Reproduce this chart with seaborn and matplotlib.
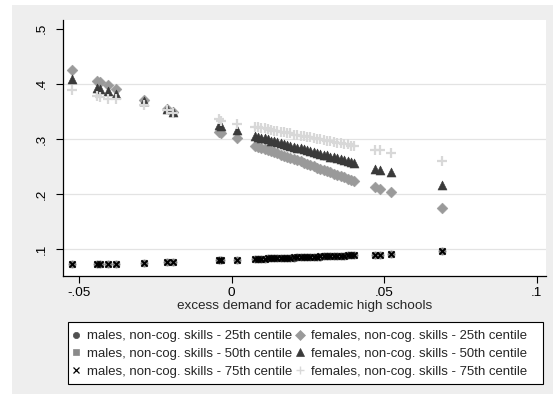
import matplotlib
matplotlib.use("Agg")
import matplotlib.pyplot as plt
import seaborn as sns
from matplotlib.patches import Rectangle
from matplotlib.lines import Line2D

# Excess demand for academic high schools (x) for each municipality group
excess_demand = [
    -0.0523, -0.0440, -0.0430, -0.0405, -0.0377, -0.0288, -0.0212, -0.0193,
    -0.0042, -0.0035, 0.0017,
    0.0078, 0.0088, 0.0098, 0.0108, 0.0119, 0.0130, 0.0140, 0.0150, 0.0161,
    0.0172, 0.0183, 0.0193, 0.0204, 0.0215, 0.0226, 0.0237, 0.0248, 0.0258,
    0.0269, 0.0280, 0.0291, 0.0302, 0.0313, 0.0324, 0.0335, 0.0346, 0.0357,
    0.0368, 0.0380, 0.0391, 0.0402,
    0.0470, 0.0487, 0.0521, 0.0688,
]

males_p25 = [
    0.0720, 0.0726, 0.0727, 0.0729, 0.0731, 0.0744, 0.0761, 0.0764,
    0.0799, 0.0800, 0.0805,
    0.0819, 0.0821, 0.0823, 0.0825, 0.0828, 0.0830, 0.0832, 0.0834, 0.0837,
    0.0839, 0.0841, 0.0844, 0.0846, 0.0848, 0.0851, 0.0853, 0.0855, 0.0857,
    0.0860, 0.0862, 0.0864, 0.0867, 0.0869, 0.0871, 0.0874, 0.0876, 0.0878,
    0.0880, 0.0883, 0.0885, 0.0889,
    0.0892, 0.0894, 0.0909, 0.0958,
]
males_p50 = [
    0.0721, 0.0727, 0.0728, 0.0730, 0.0732, 0.0745, 0.0762, 0.0765,
    0.0800, 0.0801, 0.0806,
    0.0820, 0.0822, 0.0824, 0.0826, 0.0829, 0.0831, 0.0833, 0.0835, 0.0838,
    0.0840, 0.0842, 0.0845, 0.0847, 0.0849, 0.0852, 0.0854, 0.0856, 0.0858,
    0.0861, 0.0863, 0.0865, 0.0868, 0.0870, 0.0872, 0.0875, 0.0877, 0.0879,
    0.0881, 0.0884, 0.0886, 0.0890,
    0.0893, 0.0895, 0.0910, 0.0960,
]
males_p75 = [
    0.0722, 0.0728, 0.0729, 0.0731, 0.0733, 0.0746, 0.0763, 0.0766,
    0.0801, 0.0802, 0.0807,
    0.0821, 0.0823, 0.0825, 0.0827, 0.0830, 0.0832, 0.0834, 0.0836, 0.0839,
    0.0841, 0.0843, 0.0846, 0.0848, 0.0850, 0.0853, 0.0855, 0.0857, 0.0859,
    0.0862, 0.0864, 0.0866, 0.0869, 0.0871, 0.0873, 0.0876, 0.0878, 0.0880,
    0.0882, 0.0885, 0.0887, 0.0891,
    0.0894, 0.0896, 0.0911, 0.0962,
]

females_p25 = [
    0.425, 0.406, 0.404, 0.398, 0.391, 0.371, 0.354, 0.348,
    0.312, 0.310, 0.301,
    0.288, 0.286, 0.284, 0.282, 0.280, 0.278, 0.276, 0.274, 0.271,
    0.269, 0.267, 0.265, 0.263, 0.261, 0.259, 0.256, 0.254, 0.252,
    0.250, 0.248, 0.246, 0.243, 0.241, 0.239, 0.237, 0.235, 0.232,
    0.230, 0.228, 0.226, 0.224,
    0.212, 0.209, 0.204, 0.175,
]
females_p50 = [
    0.409, 0.393, 0.391, 0.387, 0.382, 0.369, 0.354, 0.349,
    0.325, 0.323, 0.316,
    0.305, 0.304, 0.302, 0.301, 0.299, 0.297, 0.296, 0.294, 0.293,
    0.291, 0.289, 0.288, 0.286, 0.284, 0.283, 0.281, 0.280, 0.278,
    0.276, 0.275, 0.273, 0.271, 0.270, 0.268, 0.267, 0.265, 0.263,
    0.262, 0.260, 0.258, 0.256,
    0.246, 0.244, 0.239, 0.217,
]
females_p75 = [
    0.389, 0.378, 0.377, 0.373, 0.372, 0.361, 0.352, 0.347,
    0.336, 0.333, 0.328,
    0.322, 0.321, 0.320, 0.319, 0.318, 0.316, 0.315, 0.314, 0.313,
    0.312, 0.311, 0.310, 0.308, 0.307, 0.306, 0.305, 0.304, 0.303,
    0.301, 0.300, 0.299, 0.298, 0.297, 0.296, 0.294, 0.293, 0.292,
    0.291, 0.290, 0.288, 0.287,
    0.280, 0.280, 0.275, 0.259,
]

series_labels = [
    "males, non-cog. skills - 25th centile",
    "females, non-cog. skills - 25th centile",
    "males, non-cog. skills - 50th centile",
    "females, non-cog. skills - 50th centile",
    "males, non-cog. skills - 75th centile",
    "females, non-cog. skills - 75th centile",
]
x_ticks = [-0.05, 0, 0.05, 0.1]
x_tick_labels = ["-.05", "0", ".05", ".1"]
y_ticks = [0.1, 0.2, 0.3, 0.4, 0.5]
y_tick_labels = [".1", ".2", ".3", ".4", ".5"]
x_title = "excess demand for academic high schools"

sns.set_style("ticks")
plt.rcParams["font.family"] = ["Liberation Sans", "DejaVu Sans"]

FS = 9.7
LEG_FS = 9.45
W, H = 554, 401
fig = plt.figure(figsize=(W / 100, H / 100), dpi=100)
fig.patch.set_facecolor("white")

# light grey graph region
fig.patches.append(Rectangle((12 / W, 1 - 394 / H), (553 - 12) / W, (394 - 5) / H,
                             transform=fig.transFigure, facecolor="#eeeeee",
                             edgecolor="none", zorder=-5))

ax = fig.add_axes([63 / W, 1 - 276 / H, (546 - 63) / W, (276 - 20) / H])
ax.set_zorder(1)
ax.set_facecolor("white")

# marker, colour, size, line width for each series (in drawing order)
styles = [
    (males_p25, "o", "#505050", 26, 0.4),
    (females_p25, "D", "#9a9a9a", 30, 0.4),
    (males_p50, "s", "#8a8a8a", 24, 0.4),
    (females_p50, "^", "#3a3a3a", 42, 0.4),
    (males_p75, "x", "#000000", 20, 1.4),
    (females_p75, "+", "#d8d8d8", 48, 1.6),
]

for i, (vals, mk, col, size, lw) in enumerate(styles):
    kws = dict(x=excess_demand, y=vals, marker=mk, color=col, s=size,
               linewidth=lw, ax=ax, zorder=3 + i, legend=False)
    if mk in ("o", "D", "s", "^"):
        kws["edgecolor"] = col
    sns.scatterplot(**kws)

for yv in [0.1, 0.2, 0.3, 0.4]:
    ax.axhline(yv, color="#e3e3e3", lw=0.9, zorder=1)

ax.set_xlim(-0.0552, 0.103)
ax.set_ylim(0.051, 0.516)
ax.set_xticks(x_ticks)
ax.set_xticklabels(x_tick_labels)
ax.set_yticks(y_ticks)
ax.set_yticklabels(y_tick_labels, rotation=90, va="center")
ax.tick_params(axis="both", direction="out", length=5, width=0.8,
               color="black", labelsize=FS, labelcolor="black", pad=3)
ax.tick_params(axis="y", pad=6)
for side in ["top", "right"]:
    ax.spines[side].set_visible(False)
for side in ["left", "bottom"]:
    ax.spines[side].set_color("black")
    ax.spines[side].set_linewidth(0.9)
ax.set_xlabel(x_title, fontsize=FS, labelpad=1)
ax.set_ylabel("")

# legend box
fig.patches.append(Rectangle((69 / W, 1 - 385 / H), (543 - 69) / W, (385 - 322) / H,
                             transform=fig.transFigure, facecolor="#7a7a7a",
                             edgecolor="none", zorder=1))
fig.patches.append(Rectangle((68 / W, 1 - 384 / H), (543 - 68) / W, (384 - 322) / H,
                             transform=fig.transFigure, facecolor="white",
                             edgecolor="black", linewidth=0.8, zorder=2))

legend_marks = {
    "o": ("#505050", 4.5, 0.5), "D": ("#9a9a9a", 5.0, 0.5), "s": ("#8a8a8a", 5.0, 0.5),
    "^": ("#3a3a3a", 5.5, 0.5), "x": ("#000000", 4.0, 0.9), "+": ("#d8d8d8", 6.0, 1.0),
}
order = [0, 2, 4, 1, 3, 5]
handles = []
for idx in order:
    mk = styles[idx][1]
    col, ms, mew = legend_marks[mk]
    handles.append(Line2D([], [], linestyle="none", marker=mk, color=col,
                          markersize=ms, markeredgewidth=mew))
leg = fig.legend(handles, [series_labels[i] for i in order], ncol=2,
                 loc="upper left", bbox_to_anchor=(71 / W, 1 - 330 / H),
                 frameon=False, fontsize=LEG_FS, handlelength=0.8,
                 handletextpad=0.45, columnspacing=0.15, labelspacing=0.42,
                 borderaxespad=0, borderpad=0)
leg.set_zorder(5)

fig.savefig("out.png", dpi=100)
